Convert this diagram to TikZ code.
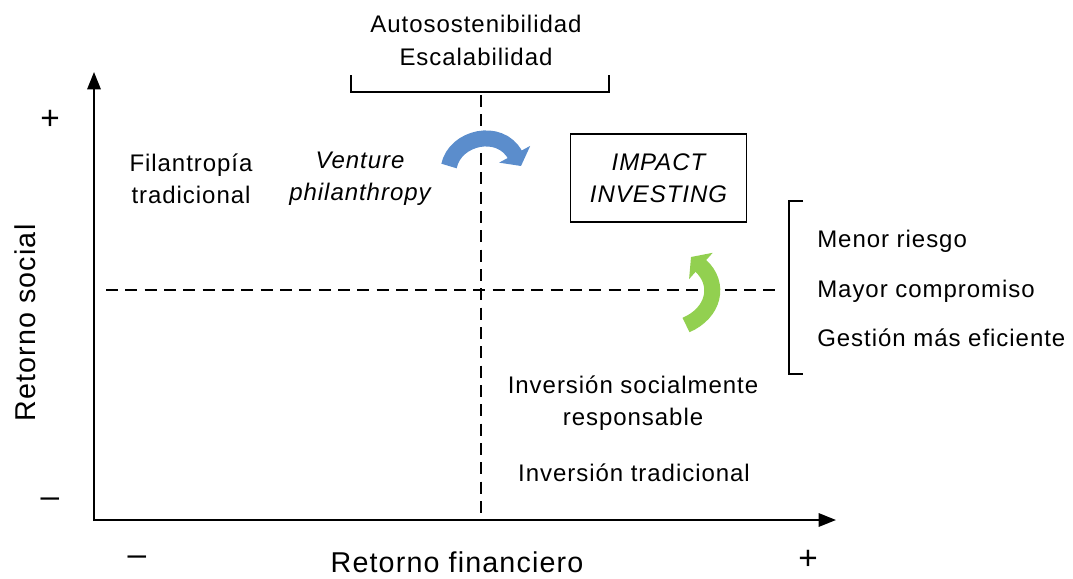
\documentclass[tikz,border=0pt]{standalone}
\usepackage{fontspec}
\setmainfont{Liberation Sans}[LetterSpace=4]
\usetikzlibrary{arrows.meta}
\definecolor{arrblue}{RGB}{91,141,204}
\definecolor{arrgreen}{RGB}{146,208,80}
\tikzset{
  txt/.style={inner sep=0pt, align=center, font=\fontsize{18}{24}\selectfont},
  axlbl/.style={inner sep=0pt, font=\fontsize{21.5}{26}\selectfont},
  sgn/.style={inner sep=0pt, font=\fontsize{25}{28}\selectfont},
  axisline/.style={line width=1.6pt, -{Triangle[length=13pt,width=10pt]}},
  dashline/.style={line width=1.3pt, dash pattern=on 9pt off 5.5pt},
  brack/.style={line width=1.3pt},
  bigarrow/.style={line width=12pt, -{Triangle[length=10pt,width=26pt]}},
}
\begin{document}
\begin{tikzpicture}[x=0.75pt,y=-0.75pt]
\useasboundingbox (0,0) rectangle (1073,578);
% axes
\coordinate (O) at (94,520);
\coordinate (ytip) at (94,72);
\coordinate (xtip) at (836,520);
\draw[line width=1.6pt] (94,521) -- (94,82);
\draw[axisline] (94,90) -- (ytip);
\draw[line width=1.6pt] (93.2,520) -- (826,520);
\draw[axisline] (818,520) -- (xtip);
% dashed lines
\coordinate (vt) at (481,95);
\coordinate (vb) at (481,515);
\coordinate (hl) at (106,290);
\coordinate (hr) at (778,290);
\draw[dashline] (vt) -- (vb);
\draw[dashline] (hl) -- (hr);
% top bracket
\coordinate (b1) at (351,75);
\coordinate (b2) at (351,92);
\coordinate (b3) at (609,92);
\coordinate (b4) at (609,75);
\draw[brack] (b1) -- (b2) -- (b3) -- (b4);
% right bracket
\coordinate (r1) at (803,201);
\coordinate (r2) at (789,201);
\coordinate (r3) at (789,374);
\coordinate (r4) at (803,374);
\draw[brack] (r1) -- (r2) -- (r3) -- (r4);
% texts
\node[txt] (auto) at (476,24) {Autosostenibilidad};
\node[txt] (esc) at (476,57) {Escalabilidad};
\node[txt] (fil) at (191,179) {Filantropía\\tradicional};
\node[txt, font=\fontsize{18}{24}\selectfont\itshape] (ven) at (360,179) {Venture\\philanthropy};
\node[draw, line width=1.2pt, minimum width=132pt, minimum height=66pt, inner sep=0pt, align=center, font=\fontsize{18}{24}\selectfont\itshape] (imp) at (658.5,178) {IMPACT\\INVESTING};
\node[txt, anchor=west] (men) at (817,241) {Menor riesgo};
\node[txt, anchor=west] (may) at (817,291) {Mayor compromiso};
\node[txt, anchor=west] (ges) at (817,338) {Gestión más eficiente};
\node[txt] (isr) at (633,403) {Inversión socialmente\\responsable};
\node[txt] (itr) at (634,473) {Inversión tradicional};
\node[axlbl, rotate=90] (rs) at (25,323) {Retorno social};
\node[axlbl] (rf) at (457,562) {Retorno financiero};
\node[sgn] (yp) at (50,120) {+};
\node[sgn] (ym) at (50,503) {–};
\node[sgn] (xm) at (137,561) {–};
\node[sgn] (xp) at (808,560) {+};
% curved arrows
\draw[bigarrow, arrblue] (449,166) .. controls (455,137) and (500,127) .. (521,166);
\draw[bigarrow, arrgreen] (686,325) .. controls (714,313) and (721,284) .. (691,257);
\end{tikzpicture}
\end{document}
